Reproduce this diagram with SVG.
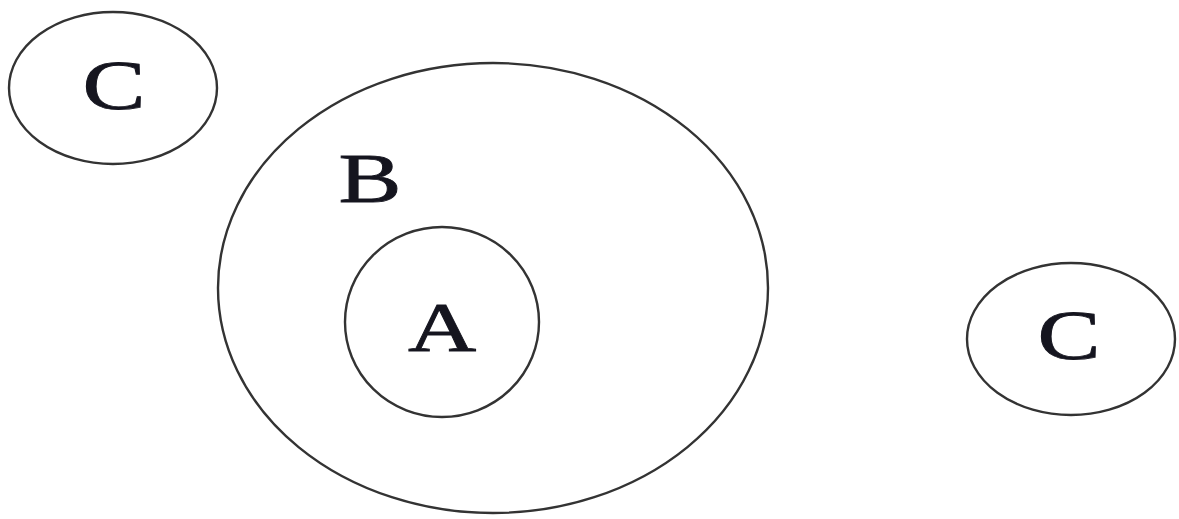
<svg xmlns="http://www.w3.org/2000/svg" width="1179" height="519" viewBox="0 0 1179 519">
<style>
.set{fill:none;stroke:#333;stroke-width:2.4}
.lbl{font-family:"Liberation Serif","DejaVu Serif",serif;font-size:70px;fill:#15151f;stroke:#15151f;stroke-width:0.8;text-anchor:middle}
</style>
<rect width="1179" height="519" fill="#fff"/>
<g id="nodeB">
<ellipse class="set" cx="493" cy="288" rx="275" ry="225"/>
<text class="lbl" transform="translate(370,202) scale(1.35,1)">B</text>
</g>
<g id="nodeA">
<ellipse class="set" cx="442" cy="322" rx="97" ry="95"/>
<text class="lbl" transform="translate(442,351) scale(1.35,1)">A</text>
</g>
<g id="nodeC1">
<ellipse class="set" cx="113" cy="88" rx="104" ry="76"/>
<text class="lbl" transform="translate(114,109) scale(1.35,1)">C</text>
</g>
<g id="nodeC2">
<ellipse class="set" cx="1071" cy="339" rx="104" ry="76"/>
<text class="lbl" transform="translate(1069,359) scale(1.35,1)">C</text>
</g>
<g id="connectors"></g>
</svg>
